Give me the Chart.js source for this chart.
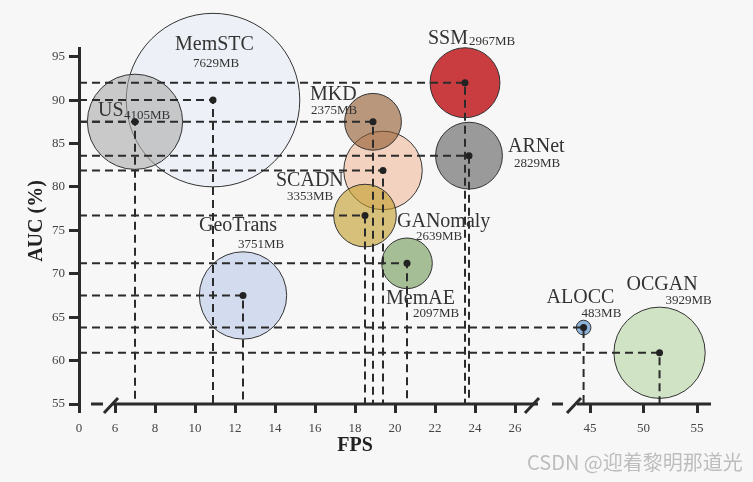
<!DOCTYPE html>
<html>
<head>
<meta charset="utf-8">
<script src="https://cdn.jsdelivr.net/npm/chart.js@4.4.0/dist/chart.umd.min.js"></script>
<style>
  html, body { margin: 0; padding: 0; background: #f7f7f7; }
  #chart_container { width: 753px; height: 482px; }
</style>
</head>
<body>
<div id="chart_container"><canvas id="myChart" width="753" height="482"></canvas></div>
<script>
// values (drawing order: lower ones first)
const methods  = ['MemSTC', 'US', 'SCADN', 'MKD', 'GANomaly', 'SSM', 'ARNet', 'GeoTrans', 'MemAE', 'ALOCC', 'OCGAN'];
const fps      = [10.9, 7.0, 19.4, 18.9, 18.5, 23.5, 23.7, 12.4, 20.6, 44.4, 51.5];
const auc      = [90.0, 87.5, 81.9, 87.5, 76.7, 92.0, 83.6, 67.5, 71.2, 63.8, 60.9];
const memoryMB = [7629, 4105, 3353, 2375, 2639, 2967, 2829, 3751, 2097, 483, 3929];

const xTicks = [0, 6, 8, 10, 12, 14, 16, 18, 20, 22, 24, 26, 45, 50, 55];
const yTicks = [55, 60, 65, 70, 75, 80, 85, 90, 95];

const bubbleColors = [
  'rgba(230,237,247,0.6)', // MemSTC
  'rgba(170,170,170,0.6)', // US
  'rgba(240,187,154,0.6)', // SCADN
  'rgba(144,87,44,0.6)',   // MKD
  'rgba(194,155,39,0.6)',  // GANomaly
  'rgb(201,61,65)',        // SSM
  'rgb(154,154,154)',      // ARNet
  'rgb(210,220,238)',      // GeoTrans
  'rgb(165,190,150)',      // MemAE
  'rgb(140,178,218)',      // ALOCC
  'rgb(208,227,196)'       // OCGAN
];

// where the text sits relative to each dot: [name dx, name dy, MB dx, MB dy]
const labelOffsets = [
  [-38, -50, -20, -33],
  [-37, -6, -11, -3],
  [-107, 16, -96, 30],
  [-63, -22, -62, -8],
  [32, 11, 51, 24],
  [-37, -39, 4, -38],
  [39, -4, 45, 11],
  [-44, -64, -5, -47],
  [-21, 41, 6, 54],
  [-37, -25, -2, -11],
  [-33, -63, 6, -49]
];

// broken x axis: 0..6 squeezed, 6..27 normal, 43..56 at about half scale
function toAxis(x) {
  if (x <= 6) return x * 0.3;
  if (x <= 30) return 1.8 + (x - 6);
  return 25.55 + (x - 45) * 0.535;
}

const ink = '#2b2b2b';
const serif = "'Liberation Serif', 'Times New Roman', serif";

const bubbles = methods.map((m, i) => ({ x: toAxis(fps[i]), y: auc[i], r: 2 + memoryMB[i] / 90 }));

const guideLines = methods.map((m, i) => ({
  type: 'line',
  data: [
    { x: 0, y: auc[i] },
    { x: toAxis(fps[i]), y: auc[i] },
    { x: toAxis(fps[i]), y: 55 }
  ],
  borderColor: ink,
  borderWidth: 2,
  borderDash: [8, 5],
  pointRadius: 0,
  tension: 0,
  fill: false,
  order: 2
}));

const decorations = {
  id: 'decorations',
  afterDraw(chart) {
    const { ctx, scales: { x, y } } = chart;
    const y0 = y.getPixelForValue(55);
    ctx.save();

    // x axis with its breaks
    ctx.strokeStyle = ink;
    ctx.lineWidth = 3;
    const pieces = [[0.6, 1.2], [1.7, 22.95], [23.65, 24.2], [24.9, 31.6]];
    pieces.forEach(p => {
      ctx.beginPath();
      ctx.moveTo(x.getPixelForValue(p[0]), y0);
      ctx.lineTo(x.getPixelForValue(p[1]), y0);
      ctx.stroke();
    });
    [1.6, 22.65, 24.75].forEach(v => {
      const cx = x.getPixelForValue(v);
      ctx.beginPath();
      ctx.moveTo(cx - 7, y0 + 9);
      ctx.lineTo(cx + 7, y0 - 6);
      ctx.stroke();
    });

    // names and memory
    ctx.fillStyle = '#333';
    ctx.textBaseline = 'alphabetic';
    ctx.textAlign = 'left';
    methods.forEach((m, i) => {
      const px = x.getPixelForValue(toAxis(fps[i]));
      const py = y.getPixelForValue(auc[i]);
      const o = labelOffsets[i];
      ctx.font = '20px ' + serif;
      ctx.fillText(m, px + o[0], py + o[1]);
      ctx.font = '13px ' + serif;
      ctx.fillText(memoryMB[i] + 'MB', px + o[2], py + o[3]);
    });

    // axis titles
    ctx.fillStyle = '#222';
    ctx.font = 'bold 20px ' + serif;
    ctx.textAlign = 'center';
    ctx.fillText('FPS', x.getPixelForValue(toAxis(18)), 451);
    ctx.save();
    ctx.translate(37, (y.top + y.bottom) / 2 - 5);
    ctx.rotate(-Math.PI / 2);
    ctx.textBaseline = 'middle';
    ctx.fillText('AUC (%)', 0, 0);
    ctx.restore();

    // watermark
    ctx.font = "20px 'Noto Sans CJK SC', sans-serif";
    ctx.textAlign = 'left';
    ctx.fillStyle = '#bdbdbd';
    ctx.fillText('CSDN @迎着黎明那道光', 527, 470);
    ctx.restore();
  }
};

const ctx = document.getElementById('myChart').getContext('2d');
const chart = new Chart(ctx, {
  type: 'bubble',
  data: {
    datasets: [
      {
        type: 'scatter',
        data: bubbles.map(b => ({ x: b.x, y: b.y })),
        backgroundColor: '#222',
        borderWidth: 0,
        pointRadius: 3.5,
        order: 1
      },
      ...guideLines,
      {
        data: bubbles,
        backgroundColor: bubbleColors,
        borderColor: '#333',
        borderWidth: 1,
        clip: false,
        order: 3
      }
    ]
  },
  options: {
    responsive: false,
    animation: false,
    events: [],
    layout: { autoPadding: false, padding: { left: 0, right: 42, top: 48, bottom: 0 } },
    plugins: { legend: { display: false }, tooltip: { enabled: false } },
    scales: {
      x: {
        type: 'linear',
        min: 0,
        max: 31.6,
        afterBuildTicks: (scale) => { scale.ticks = xTicks.map(t => ({ value: toAxis(t) })); },
        afterFit: (scale) => { scale.height = 78; },
        ticks: {
          autoSkip: false,
          maxRotation: 0,
          padding: 8,
          color: '#444',
          font: { family: serif, size: 13 },
          callback: (value, index) => String(xTicks[index])
        },
        grid: { drawOnChartArea: false, tickLength: 9, tickWidth: 3, tickColor: ink },
        border: { display: false }
      },
      y: {
        min: 55,
        max: 96,
        afterBuildTicks: (scale) => { scale.ticks = yTicks.map(t => ({ value: t })); },
        afterFit: (scale) => { scale.width = 79; },
        ticks: {
          padding: 4,
          color: '#444',
          font: { family: serif, size: 13 }
        },
        grid: { drawOnChartArea: false, tickLength: 10, tickWidth: 3, tickColor: ink },
        border: { display: true, width: 3, color: ink }
      }
    }
  },
  plugins: [decorations]
});
</script>
</body>
</html>
